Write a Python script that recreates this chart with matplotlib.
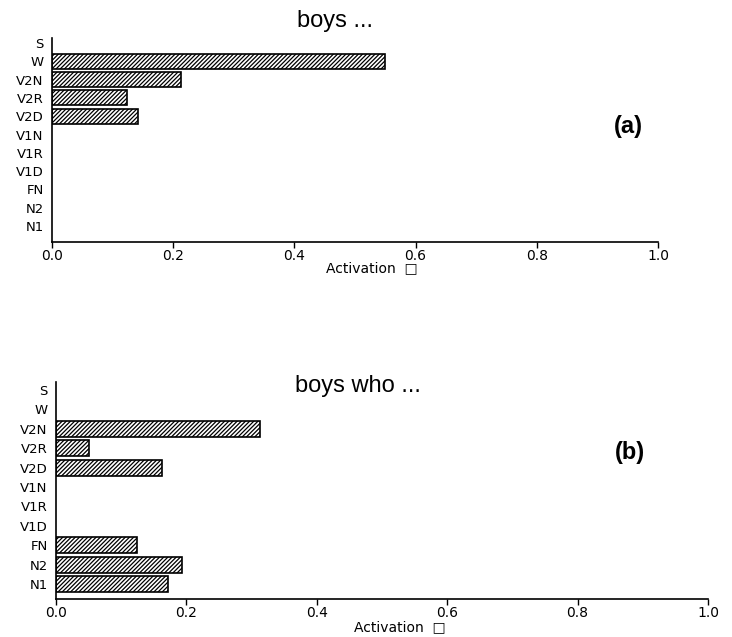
import matplotlib
matplotlib.use("Agg")
import matplotlib.pyplot as plt
import numpy as np

# Categories listed top to bottom as in the chart
categories = ["S", "W", "V2N", "V2R", "V2D", "V1N", "V1R", "V1D", "FN", "N2", "N1"]
act_a = [0.0, 0.55, 0.213, 0.124, 0.142, 0.0, 0.0, 0.0, 0.0, 0.0, 0.0]
act_b = [0.0, 0.0, 0.313, 0.051, 0.163, 0.0, 0.0, 0.0, 0.124, 0.193, 0.172]
xticks = [0.0, 0.2, 0.4, 0.6, 0.8, 1.0]
xtick_labels = ["0.0", "0.2", "0.4", "0.6", "0.8", "1.0"]

plt.rcParams["hatch.linewidth"] = 0.9
plt.rcParams["font.family"] = ["DejaVu Sans"]

fig = plt.figure(figsize=(7.32, 6.37), dpi=100, facecolor="white")


def draw_panel(rect, values, ylim, title, title_xy, tag, tag_xy, xlabel_xy):
    ax = fig.add_axes(rect)
    ypos = np.arange(len(categories))[::-1]
    # empty bars get no outline so nothing shows at zero
    lws = [1.2 if v > 0 else 0.0 for v in values]
    ax.barh(ypos, values, height=0.82, left=0, color="white",
            edgecolor="black", linewidth=lws, hatch="////////")
    ax.set_xlim(0, 1.0)
    ax.set_ylim(*ylim)
    ax.set_yticks(ypos)
    ax.set_yticklabels(categories, fontsize=9.5)
    ax.set_xticks(xticks)
    ax.set_xticklabels(xtick_labels, fontsize=10)
    ax.tick_params(axis="y", length=0, pad=6)
    ax.tick_params(axis="x", direction="out", length=4, width=1.0, pad=1)
    for side in ("top", "right"):
        ax.spines[side].set_visible(False)
    for side in ("left", "bottom"):
        ax.spines[side].set_linewidth(1.2)
    fig.text(*title_xy, title, fontsize=17, family="Liberation Sans",
             ha="center", va="center")
    fig.text(*tag_xy, tag, fontsize=17, family="Liberation Sans",
             fontweight="bold", ha="center", va="center")
    fig.text(*xlabel_xy, "Activation  \u25a1", fontsize=10,
             ha="center", va="center")
    return ax


W, H = 732.0, 637.0
draw_panel([52 / W, 1 - 242 / H, 606 / W, 204 / H], act_a, (-0.87, 10.27),
           "boys ...", (335 / W, 1 - 21 / H),
           "(a)", (628 / W, 1 - 127 / H), (372 / W, 1 - 268 / H))
draw_panel([56 / W, 1 - 599 / H, 652 / W, 217 / H], act_b, (-0.77, 10.41),
           "boys who ...", (358 / W, 1 - 386 / H),
           "(b)", (630 / W, 1 - 452 / H), (400 / W, 1 - 627 / H))

fig.savefig("out.png", dpi=100, facecolor="white")
